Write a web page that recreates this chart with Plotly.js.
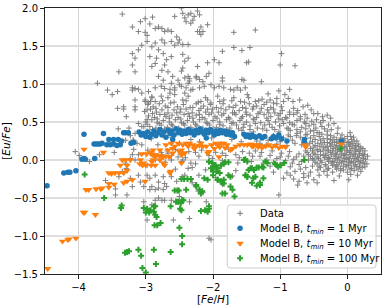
<!DOCTYPE html>
<html><head><meta charset="utf-8">
<script src="https://cdn.plot.ly/plotly-3.0.1.min.js"></script>
<style>html,body{margin:0;padding:0;background:#fff}#chart{width:390px;height:305px}</style>
</head><body><div id="chart"></div>
<script>
// Observational data: [Fe/H], [Eu/Fe]
const dataPts = [
[-3.35,1.92],[-3.2,1.75],[-3.08,1.82],[-3.01,1.86],[-2.9,1.88],[-2.94,1.79],[-3.11,1.69],[-3.01,1.68],[-2.98,1.64],[-2.86,1.73],[-2.81,1.75],[-2.76,1.73],[-2.72,1.69],[-2.67,1.71],[-2.62,1.69],[-2.54,1.62],[-2.5,1.58],[-2.76,1.58],[-2.72,1.54],[-2.62,1.56],[-2.57,1.51],[-2.52,1.54],[-2.91,1.49],[-2.86,1.54],[-2.81,1.45],[-3.2,1.4],[-3.11,1.45],[-3.16,1.34],[-3.06,1.51],[-2.98,1.56],[-3.2,1.25],[-3.16,1.16],[-3.4,1.16],[-3.72,1.01],[-3.57,0.92],[-3.5,0.86],[-3.42,0.9],[-3.33,0.7],[-3.33,0.67],[-3.42,0.68],[-3.16,0.7],[-3.16,0.66],[-3.2,0.92],[-3.16,0.94],[-3.06,0.88],[-3.01,0.79],[-2.96,0.75],[-2.91,0.83],[-2.86,0.77],[-2.91,1.23],[-2.86,1.27],[-2.76,1.18],[-2.72,1.25],[-2.81,1.1],[-2.74,1.05],[-2.94,1.36],[-2.84,1.34],[-2.74,1.4],[-2.69,1.32],[-2.62,1.36],[-2.67,1.16],[-2.6,1.1],[-2.52,1.05],[-2.62,1.01],[-2.5,0.99],[-2.37,1.01],[-2.35,1.07],[-2.72,0.94],[-2.64,0.88],[-2.57,0.92],[-2.42,0.88],[-2.33,0.92],[-3.11,0.48],[-3.06,0.44],[-2.98,0.53],[-3.3,0.26],[-3.18,0.26],[-3.25,0.42],[-2.47,2.0],[-2.33,1.93],[-2.3,1.84],[-2.57,1.89],
[-2.45,1.93],[-2.37,1.91],[-2.28,1.89],[-2.2,1.91],[-2.42,1.87],[-2.4,1.82],[-2.33,1.8],[-2.08,1.78],[-2.2,1.69],[-2.15,1.69],[-1.69,1.68],[-1.37,1.71],[-2.37,1.52],[-2.45,1.39],[-2.37,1.34],[-2.42,1.3],[-2.45,1.21],[-2.47,1.17],[-2.08,1.28],[-2.06,1.14],[-1.98,1.32],[-1.91,1.28],[-1.86,1.43],[-1.86,1.08],[-1.57,1.06],[-1.5,1.28],[-1.69,1.48],[-1.57,1.44],[-1.45,1.48],[-2.45,1.52],[-2.42,1.08],[-2.37,1.1],[-2.35,1.04],[-2.25,1.08],[-2.2,1.06],
[-2.23,1.96],[-2.18,1.75],[-2.23,1.69],[-2.18,1.65],[-1.47,1.29],[-0.98,1.4],[-1.0,1.25],[-0.78,1.24],[-2.23,1.23],[-2.25,1.1],[-2.1,1.1],[-2.15,1.03],[-1.86,1.04],[-1.54,1.05],[-1.28,1.03],[-1.69,0.92],[-1.59,0.92],[-1.49,0.86],[-1.02,0.91],[-0.86,0.93],[-1.18,0.87],[-1.27,0.8],[-1.15,0.79],[-1.05,0.81],[-1.1,0.75],[-0.93,0.86],[-0.88,0.81],[-0.81,0.77],[-0.71,0.79],[-0.66,0.7],[-0.59,0.72],[-0.54,0.66],[-0.44,0.61],[-0.37,0.57],[-0.3,0.59],[-0.25,0.55],[0.04,0.36],[0.09,0.3],[0.14,0.25],[0.01,0.24],
[-3.2,0.95],[-3.11,0.93],[-2.96,0.9],[-2.86,0.95],[-2.77,0.97],[-2.64,0.93],[-2.57,0.95],[-2.47,0.97],[-2.4,0.95],[-2.3,0.93],[-2.2,0.95],[-2.13,0.97],[-2.03,0.99],[-1.98,0.95],[-1.91,0.97],[-1.84,0.95],[-1.74,0.93],[-1.64,0.95],[-1.52,0.95],
[-3.16,0.79],[-3.01,0.77],[-2.91,0.82],[-2.77,0.84],[-2.67,0.82],[-2.57,0.86],[-2.45,0.79],[-2.37,0.84],[-2.18,0.77],[-2.11,0.82],[-2.03,0.75],[-1.93,0.84],[-1.84,0.79],[-1.69,0.82],[-1.59,0.77],[-1.47,0.82],[-1.37,0.77],
[-2.97,0.73],[-2.89,0.7],[-2.8,0.74],[-2.71,0.71],[-2.63,0.75],[-2.53,0.7],[-2.44,0.73],[-2.34,0.69],[-2.25,0.74],[-2.14,0.71],[-2.04,0.73],[-1.95,0.69],[-1.85,0.74],[-1.76,0.7],[-1.66,0.72],[-1.56,0.69],[-1.46,0.74],[-1.35,0.71],[-1.24,0.73],[-1.14,0.69],
[-3.02,0.64],[-2.93,0.67],[-2.84,0.63],[-2.76,0.66],[-2.67,0.62],[-2.58,0.66],[-2.49,0.63],[-2.4,0.67],[-2.31,0.62],[-2.21,0.65],[-2.11,0.63],[-2.01,0.67],[-1.92,0.63],[-1.81,0.66],[-1.71,0.62],[-1.61,0.65],[-1.51,0.63],[-1.41,0.67],[-1.3,0.63],[-1.19,0.66],[-1.08,0.62],[-0.97,0.65],[-0.86,0.63],
[-2.96,0.58],[-2.87,0.56],[-2.79,0.6],[-2.7,0.57],[-2.61,0.59],[-2.52,0.56],[-2.43,0.6],[-2.35,0.57],[-2.25,0.59],[-2.16,0.56],[-2.06,0.6],[-1.97,0.57],[-1.87,0.59],[-1.77,0.56],[-1.66,0.6],[-1.56,0.57],[-1.45,0.59],[-1.35,0.56],[-1.24,0.6],[-1.14,0.57],[-1.03,0.59],[-0.92,0.56],[-0.8,0.6],[-0.7,0.57],
[-3.0,0.5],[-2.91,0.53],[-2.83,0.49],[-2.74,0.52],[-2.65,0.5],[-2.56,0.53],[-2.47,0.49],[-2.38,0.52],[-2.29,0.5],[-2.2,0.53],[-2.1,0.49],[-2.0,0.52],[-1.9,0.5],[-1.8,0.53],[-1.7,0.49],[-1.6,0.52],[-1.5,0.5],[-1.39,0.53],[-1.29,0.49],[-1.18,0.52],[-1.07,0.5],[-0.97,0.53],[-0.86,0.49],[-0.75,0.52],[-0.64,0.5],[-0.53,0.51],
[-2.94,0.44],[-2.85,0.42],[-2.77,0.46],[-2.68,0.43],[-2.6,0.45],[-2.51,0.42],[-2.42,0.46],[-2.33,0.43],[-2.24,0.45],[-2.15,0.42],[-2.05,0.46],[-1.95,0.43],[-1.85,0.45],[-1.75,0.42],[-1.65,0.46],[-1.55,0.43],[-1.45,0.45],[-1.34,0.42],[-1.23,0.46],[-1.12,0.43],[-1.01,0.45],[-0.9,0.42],[-0.79,0.46],[-0.68,0.43],[-0.57,0.45],[-0.47,0.42],[-0.38,0.44],
[-2.98,0.38],[-2.8,0.37],[-2.63,0.39],[-2.45,0.37],[-2.28,0.39],[-2.1,0.37],[-1.92,0.39],[-1.73,0.37],[-1.57,0.39],[-1.4,0.37],[-1.2,0.39],[-1.02,0.37],[-0.85,0.39],[-0.7,0.37],[-0.55,0.38],[-0.42,0.36],[-0.3,0.38],
[-2.93,0.77],[-2.75,0.78],[-2.58,0.76],[-2.4,0.78],[-2.22,0.76],[-2.08,0.79],[-1.9,0.77],[-1.72,0.78],[-1.53,0.76],[-1.32,0.78],[-1.2,0.76],[-1.05,0.74],[-0.95,0.77],
[-2.85,0.68],[-2.67,0.69],[-2.48,0.67],[-2.3,0.69],[-2.18,0.68],[-2.08,0.67],[-1.88,0.68],[-1.7,0.69],[-1.51,0.68],[-1.4,0.7],[-1.28,0.68],[-1.1,0.67],[-0.98,0.7],[-0.8,0.68],[-0.74,0.65],
[-2.9,0.61],[-2.72,0.6],[-2.54,0.62],[-2.37,0.61],[-2.2,0.6],[-2.02,0.62],[-1.84,0.61],[-1.68,0.62],[-1.5,0.6],[-1.33,0.61],[-1.17,0.62],[-1.0,0.61],[-0.86,0.6],[-0.75,0.62],[-0.63,0.6],[-0.5,0.61],
[-2.83,0.54],[-2.65,0.55],[-2.48,0.54],[-2.3,0.55],[-2.12,0.54],[-1.94,0.55],[-1.75,0.54],[-1.58,0.55],[-1.4,0.54],[-1.2,0.55],[-1.02,0.54],[-0.9,0.55],[-0.7,0.54],[-0.6,0.55],[-0.46,0.53],[-0.36,0.52],
[-2.98,0.47],[-2.8,0.48],[-2.62,0.47],[-2.44,0.48],[-2.26,0.47],[-2.08,0.48],[-1.9,0.47],[-1.72,0.48],[-1.54,0.47],[-1.37,0.48],[-1.16,0.47],[-0.95,0.48],[-0.82,0.47],[-0.62,0.48],[-0.5,0.47],[-0.4,0.49],[-0.28,0.46],[-0.2,0.48],
[-2.9,0.4],[-2.72,0.41],[-2.54,0.4],[-2.36,0.41],[-2.18,0.4],[-2.0,0.41],[-1.8,0.4],[-1.62,0.41],[-1.45,0.4],[-1.26,0.41],[-1.08,0.4],[-0.88,0.41],[-0.75,0.4],[-0.62,0.41],[-0.5,0.39],[-0.34,0.41],[-0.24,0.4],[-0.14,0.42],
[-0.88,0.33],[-0.76,0.32],[-0.62,0.33],[-0.5,0.32],[-0.38,0.34],[-0.25,0.32],[-0.08,0.33],[0.05,0.31],
[-2.92,0.28],[-2.62,0.3],[-2.33,0.27],[-2.02,0.29],[-1.72,0.27],[-1.43,0.3],
[-2.97,0.13],[-2.77,0.1],[-2.56,0.14],[-2.36,0.11],[-2.17,0.13],[-1.96,0.1],[-1.77,0.14],[-1.56,0.11],[-1.37,0.12],
[-2.87,0.04],[-2.62,0.06],[-2.41,0.03],[-2.21,0.05],[-2.01,0.02],[-1.81,0.06],[-1.61,0.03],[-1.41,0.05],
[-2.71,-0.03],[-2.46,-0.02],[-2.26,-0.05],[-2.06,-0.03],[-1.86,-0.01],[-1.63,-0.04],[-1.43,-0.02],
[-2.56,-0.12],[-2.31,-0.1],[-2.11,-0.13],[-1.91,-0.11],[-1.66,-0.14],[-1.46,-0.12],
[-2.46,-0.22],[-2.21,-0.2],[-1.96,-0.23],[-1.71,-0.21],[-1.51,-0.19],[-2.31,-0.3],[-1.86,-0.32],
[-2.82,0.2],[-2.5,0.22],[-2.2,0.24],[-1.88,0.21],[-1.58,0.24],[-1.3,0.22],[-2.68,0.12],[-2.46,0.08],[-2.26,0.1],[-2.06,0.06],[-1.86,0.09],[-1.66,0.07],[-1.46,0.09],
[-1.25,0.3],[-1.1,0.32],[-0.95,0.29],[-0.85,0.31],[-1.2,0.2],[-1.05,0.21],[-0.9,0.19],[-0.78,0.22],[-0.68,0.2],
[-1.28,0.1],[-1.12,0.12],[-0.98,0.09],[-0.86,0.11],[-0.72,0.08],[-0.62,0.12],
[-1.2,0.0],[-1.05,0.02],[-0.92,-0.01],[-0.8,0.01],[-0.68,-0.02],[-0.58,0.0],
[-1.15,-0.08],[-0.98,-0.07],[-0.85,-0.09],[-0.72,-0.06],[-0.62,-0.1],[-0.52,-0.08],
[-1.1,-0.16],[-0.9,-0.17],[-0.78,-0.15],[-0.65,-0.18],[-0.55,-0.16],
[-0.95,-0.24],[-0.8,-0.25],[-0.65,-0.23],[-0.5,-0.26],[-0.74,-0.33],[-0.44,-0.13],
[-1.35,0.25],[-1.18,0.26],[-1.0,0.24],[-0.82,0.26],[-1.3,0.05],[-1.15,0.06],[-1.0,0.04],[-0.88,0.05],[-0.76,0.04],[-0.65,0.05],[-1.25,-0.04],[-1.1,-0.03],[-0.95,-0.04],[-0.82,-0.04],[-0.7,-0.12],[-0.58,-0.21],[-0.85,-0.2],[-0.72,-0.28],[-0.6,-0.3],[-0.42,-0.2],[-0.45,-0.3],
[-0.75,0.35],[-0.6,0.34],[-0.45,0.36],[-0.3,0.33],[-0.15,0.35],
[-0.7,0.3],[-0.55,0.29],[-0.42,0.31],[-0.3,0.28],[-0.2,0.3],[-0.1,0.29],[0.0,0.31],
[-0.62,0.28],[-0.48,0.27],[-0.36,0.28],[-0.25,0.27],[-0.16,0.27],[-0.04,0.28],[0.06,0.27],
[-0.65,0.25],[-0.52,0.24],[-0.4,0.26],[-0.3,0.23],[-0.22,0.25],[-0.14,0.24],[-0.06,0.26],[0.02,0.23],[0.1,0.25],
[-0.56,0.22],[-0.44,0.22],[-0.34,0.23],[-0.26,0.22],[-0.19,0.23],[-0.12,0.22],[-0.05,0.23],[0.02,0.21],[0.08,0.22],[0.16,0.21],
[-0.6,0.2],[-0.48,0.19],[-0.38,0.21],[-0.3,0.18],[-0.23,0.2],[-0.16,0.19],[-0.09,0.21],[-0.02,0.18],[0.05,0.2],[0.12,0.19],
[-0.5,0.17],[-0.41,0.18],[-0.32,0.17],[-0.25,0.18],[-0.18,0.17],[-0.11,0.18],[-0.04,0.17],[0.03,0.18],[0.1,0.17],[0.17,0.18],[0.23,0.15],
[-0.55,0.15],[-0.45,0.14],[-0.36,0.16],[-0.28,0.13],[-0.21,0.15],[-0.14,0.14],[-0.07,0.16],[0.0,0.13],[0.07,0.15],[0.14,0.14],[0.2,0.16],
[-0.52,0.12],[-0.44,0.12],[-0.35,0.13],[-0.29,0.12],[-0.22,0.12],[-0.15,0.12],[-0.08,0.13],[-0.01,0.12],[0.05,0.12],[0.12,0.12],[0.19,0.13],[0.26,0.12],
[-0.6,0.1],[-0.5,0.09],[-0.4,0.11],[-0.32,0.08],[-0.25,0.1],[-0.18,0.09],[-0.11,0.11],[-0.04,0.08],[0.03,0.1],[0.1,0.09],[0.17,0.11],[0.23,0.08],
[-0.58,0.07],[-0.48,0.07],[-0.4,0.07],[-0.32,0.06],[-0.24,0.07],[-0.16,0.07],[-0.09,0.08],[-0.02,0.07],[0.05,0.07],[0.12,0.07],[0.18,0.08],[0.25,0.07],
[-0.55,0.05],[-0.45,0.04],[-0.36,0.06],[-0.28,0.03],[-0.2,0.05],[-0.13,0.04],[-0.06,0.06],[0.01,0.03],[0.08,0.05],[0.15,0.04],[0.22,0.06],
[-0.52,0.02],[-0.43,0.02],[-0.34,0.03],[-0.26,0.02],[-0.18,0.02],[-0.11,0.03],[-0.04,0.02],[0.03,0.02],[0.1,0.02],[0.17,0.03],[0.24,0.02],
[-0.5,0.0],[-0.4,-0.01],[-0.3,0.01],[-0.22,-0.02],[-0.15,0.0],[-0.08,-0.01],[-0.01,0.01],[0.06,-0.02],[0.13,0.0],[0.2,-0.01],[0.27,0.01],
[-0.48,-0.03],[-0.38,-0.03],[-0.28,-0.02],[-0.2,-0.03],[-0.12,-0.03],[-0.05,-0.02],[0.02,-0.03],[0.09,-0.03],[0.16,-0.02],[0.23,-0.03],
[-0.45,-0.05],[-0.33,-0.06],[-0.24,-0.04],[-0.16,-0.06],[-0.09,-0.04],[-0.02,-0.06],[0.05,-0.04],[0.12,-0.06],[0.19,-0.04],[0.25,-0.05],
[-0.42,-0.08],[-0.32,-0.08],[-0.22,-0.07],[-0.14,-0.08],[-0.06,-0.08],[0.02,-0.07],[0.1,-0.08],[0.18,-0.08],[0.26,-0.09],
[-0.4,-0.1],[-0.28,-0.11],[-0.18,-0.09],[-0.1,-0.11],[-0.02,-0.09],[0.06,-0.11],[0.14,-0.09],[0.22,-0.1],
[-0.3,-0.13],[-0.16,-0.12],[-0.06,-0.13],[0.04,-0.12],[0.16,-0.12],
[-0.35,-0.15],[-0.22,-0.16],[-0.1,-0.14],[0.0,-0.16],[0.1,-0.14],[0.2,-0.15],
[-0.3,-0.2],[-0.12,-0.21],[0.05,-0.19],[0.15,-0.2],[-0.2,-0.27],[0.02,-0.26],[0.29,-0.05],[0.3,0.05],
[-4.05,0.11],[-3.99,0.06],[-3.84,-0.02],[-3.69,0.07],[-3.47,0.1],[-3.45,-0.38],[-3.6,-0.27],[-3.41,0.41],[-3.29,0.57],[-3.23,0.32],[-3.19,0.26],[-3.16,0.35],[-3.13,0.22],[-3.06,0.2],[-3.18,0.14],[-3.03,0.44],[-2.98,0.66],[-3.4,-0.22],[-3.35,-0.15],[-3.29,-0.11],[-3.23,-0.24],[-3.2,-0.35],[-3.11,-0.2],[-3.08,-0.29],[-3.03,-0.35],[-3.45,-0.46],[-3.28,-0.46],
[-3.2,0.07],[-3.11,0.07],[-3.3,-0.04],[-3.16,0.0],[-3.23,0.02],[-2.98,-0.2],[-2.94,-0.24],[-2.86,-0.2],[-2.81,-0.29],[-2.74,-0.22],[-2.91,-0.35],[-2.86,-0.39],[-2.72,-0.31],[-2.62,-0.22],[-2.54,-0.28],[-2.42,-0.2],[-2.37,-0.11],[-2.33,-0.04],[-2.45,0.0],[-2.52,0.04],[-3.03,-0.55],[-2.98,-0.79],[-2.91,-0.59],[-3.06,-0.04],[-2.98,-0.07],[-2.86,0.0],[-2.62,0.0],[-2.76,0.07],[-2.67,0.09],
[-2.94,-0.39],[-2.81,-0.37],[-2.74,-0.39],[-2.69,-0.35],[-2.81,-0.5],[-2.76,-0.53],[-2.86,-0.53],[-2.72,-0.53],[-2.62,-0.53],[-2.54,-0.55],[-2.5,-0.48],[-2.35,-0.55],[-2.35,-0.77],[-2.59,-0.79],[-2.1,-0.55],[-2.06,-1.03],[-2.03,-1.05],[-1.59,-0.7],[-1.74,-0.35],[-1.02,-0.46],[-2.15,-0.43],[-2.22,-0.41]
];
// Model B, t_min = 1 Myr
const modelB1 = [
[-4.47,-0.34],[-4.22,-0.17],[-4.16,-0.16],[-4.13,-0.16],[-4.04,-0.14],[-3.95,0.01],[-3.92,0.02],[-3.9,0.01],[-3.76,0.02],[-3.92,0.34],[-3.63,0.35],
[-3.77,0.21],[-3.74,0.21],[-3.71,0.21],[-3.68,0.21],[-3.65,0.22],[-3.58,0.2],[-3.53,0.2],[-3.48,0.21],[-3.43,0.19],[-3.38,0.2],
[-3.55,0.27],[-3.48,0.27],[-3.41,0.27],[-3.36,0.25],[-3.33,0.36],[-3.3,0.36],[-3.26,0.36],[-3.22,0.22],[-3.18,0.23],
[-3.1,0.37],[-3.07,0.33],[-3.04,0.35],[-3.0,0.31],[-2.97,0.37],[-2.94,0.3],[-2.91,0.34],
[-2.88,0.38],[-2.85,0.32],[-2.82,0.36],[-2.79,0.4],[-2.76,0.33],[-2.73,0.37],[-2.7,0.3],[-2.67,0.39],[-2.64,0.35],[-2.61,0.38],[-2.58,0.33],[-2.55,0.41],[-2.52,0.36],[-2.49,0.39],[-2.46,0.34],[-2.43,0.38],[-2.4,0.35],[-2.37,0.4],[-2.34,0.36],[-2.31,0.38],[-2.28,0.33],[-2.25,0.39],[-2.22,0.36],[-2.19,0.41],[-2.16,0.37],[-2.13,0.34],[-2.1,0.39],[-2.07,0.36],[-2.04,0.4],[-2.01,0.37],[-1.98,0.33],[-1.95,0.38],[-1.92,0.35],[-1.89,0.39],[-1.86,0.36],[-1.83,0.38],[-1.8,0.34],[-1.77,0.37],[-1.74,0.33],[-1.71,0.36],[-1.68,0.31],
[-1.54,0.34],[-1.51,0.31],[-1.48,0.33],[-1.45,0.3],[-1.42,0.33],[-1.39,0.31],[-1.36,0.3],[-1.31,0.32],[-1.27,0.29],[-1.23,0.31],
[-1.13,0.28],[-1.1,0.31],[-1.06,0.29],[-1.02,0.33],[-0.98,0.28],[-0.9,0.25],[-0.64,0.27],[-0.64,0.24],[-0.09,0.25],[-2.6,0.27],[-2.1,0.29]
];
// Model B, t_min = 10 Myr
const modelB10 = [
[-4.46,-1.43],[-4.24,-1.07],[-4.16,-1.05],[-4.14,-1.04],[-4.04,-1.03],[-3.93,-0.69],[-3.91,-0.69],[-3.75,-0.72],[-3.92,0.14],[-3.63,0.1],
[-3.89,-0.39],[-3.85,-0.39],[-3.74,-0.38],[-3.67,-0.38],[-3.65,-0.37],[-3.55,-0.17],[-3.51,-0.18],[-3.46,-0.17],[-3.4,-0.17],[-3.33,-0.17],[-3.28,-0.14],
[-3.55,-0.31],[-3.47,-0.32],[-3.55,-0.36],[-3.33,-0.3],[-3.28,-0.28],[-3.38,-0.07],[-3.35,0.0],[-3.3,0.0],[-3.23,0.0],[-3.28,-0.07],[-3.2,-0.26],[-3.01,-0.28],
[-3.06,0.08],[-2.99,0.08],[-2.92,0.08],[-3.09,-0.05],[-3.05,-0.07],[-3.0,-0.07],[-2.92,-0.07],[-3.08,0.0],[-3.03,-0.04],[-2.94,0.1],[-2.89,0.07],
[-2.89,0.13],[-2.86,0.07],[-2.79,0.13],[-2.89,0.0],[-2.79,0.0],[-2.74,0.04],[-2.67,0.13],[-2.62,0.22],[-2.57,0.18],[-2.52,0.22],[-2.47,0.13],[-2.47,0.07],[-2.42,0.09],[-2.37,0.18],[-2.35,0.22],[-2.3,0.2],[-2.25,0.18],[-2.18,0.22],[-2.15,0.18],[-2.1,0.18],[-2.08,0.09],[-2.06,0.11],[-1.98,0.15],[-1.93,0.2],[-1.88,0.22],[-1.84,0.22],[-1.79,0.2],[-1.74,0.13],[-1.71,0.15],[-1.54,0.2],[-1.49,0.2],[-1.4,0.18],[-1.35,0.2],
[-2.63,-0.15],[-2.47,-0.04],[-2.74,-0.04],[-1.91,0.04],
[-2.7,0.2],[-2.6,0.15],[-2.45,0.2],[-2.4,0.22],[-2.28,0.15],[-2.2,0.19],[-2.02,0.2],[-1.96,0.22],[-1.9,0.17],[-1.82,0.16],[-1.66,0.18],[-1.6,0.2],[-1.44,0.21],
[-2.86,0.04],[-2.8,0.06],[-2.76,0.04],[-2.7,0.05],[-2.65,0.04],[-2.6,0.09],[-2.5,0.11],[-2.45,0.09],[-2.91,-0.02],[-2.86,-0.07],[-2.72,-0.07],[-2.64,-0.17],
[-1.42,0.18],[-1.38,0.2],[-1.33,0.17],[-1.3,0.19],[-1.27,0.16],[-1.22,0.18],[-1.17,0.2],[-1.12,0.17],[-1.07,0.19],[-1.02,0.16],[-0.97,0.18],[-0.92,0.17],[-0.64,0.2],[-0.62,0.17],[-0.09,0.21]
];
// Model B, t_min = 100 Myr
const modelB100 = [
[-3.91,-0.19],[-3.62,-0.5],[-3.36,-0.6],[-3.37,-0.63],[-3.31,-1.22],[-3.28,-1.21],[-3.25,-1.2],[-3.11,-1.18],[-3.07,-1.26],[-3.05,-1.42],[-3.0,-1.48],
[-3.03,-0.63],[-3.0,-0.69],[-2.98,-0.64],[-2.95,-0.69],[-2.93,-0.66],[-2.88,-0.61],[-2.88,-0.68],[-2.86,-0.61],[-2.86,-0.72],[-2.84,-0.75],
[-2.87,-0.86],[-2.83,-0.86],[-2.78,-0.83],[-2.88,-1.18],[-2.85,-1.37],[-2.63,-1.21],[-2.63,-0.61],
[-2.57,-0.4],[-2.53,-0.4],[-2.51,-0.4],[-2.47,-0.25],[-2.43,-0.25],[-2.38,-0.25],[-2.33,-0.25],
[-2.55,-0.55],[-2.52,-0.55],[-2.48,-0.57],[-2.46,-0.53],[-2.44,-0.53],[-2.49,-0.64],[-2.47,-0.66],[-2.5,-0.89],[-2.46,-1.0],[-2.46,-1.11],
[-2.4,-0.39],[-2.18,-0.67],[-2.06,-0.64],[-2.18,-0.44],[-2.25,-0.33],[-2.25,-0.35],[-2.2,-0.39],[-2.16,-0.41],[-2.12,-0.66],[-2.08,-0.68],[-2.06,-0.61],
[-2.03,-0.11],[-2.0,-0.11],[-1.98,-0.09],[-2.0,-0.15],[-1.95,-0.15],[-1.9,-0.17],[-2.0,-0.2],[-1.96,-0.07],
[-1.93,-0.26],[-1.88,-0.28],[-1.86,-0.3],[-1.84,-0.26],[-1.86,-0.44],[-1.82,-0.44],[-1.71,-0.39],[-1.68,-0.48],
[-1.84,-0.05],[-1.82,-0.03],[-1.77,-0.03],[-1.77,-0.2],[-1.74,-0.22],
[-1.52,-0.2],[-1.49,-0.22],[-1.47,-0.13],[-1.44,-0.11],[-1.42,-0.11],[-1.39,-0.13],[-1.54,0.0],[-1.52,0.01],[-1.49,-0.02],
[-1.42,-0.3],[-1.3,-0.3],[-1.3,-0.33],[-1.35,-0.1],[-1.32,-0.1],[-1.27,-0.09],[-1.25,-0.1],[-1.22,-0.02],[-1.19,-0.04],
[-1.08,-0.05],[-1.05,-0.07],[-1.03,-0.09],[-1.0,-0.07],[-0.94,-0.04],[-1.25,-0.24],[-1.37,-0.22],[-1.35,-0.34],[-0.64,0.0],[-0.1,0.15],
[-2.06,-0.02],[-2.01,-0.04],[-1.93,-0.11],[-1.88,-0.07],[-2.13,-0.24],[-2.08,-0.26],[-1.93,-0.26],[-1.84,-0.31],[-1.74,-0.35],[-1.49,-0.22],[-1.4,-0.24]
];
const xTicks = [-4, -3, -2, -1, 0];
const yTicks = [-1.5, -1.0, -0.5, 0.0, 0.5, 1.0, 1.5, 2.0];
const seriesNames = ['Data',
  'Model B, <i>t</i><sub><i>min</i></sub> = 1 Myr',
  'Model B, <i>t</i><sub><i>min</i></sub> = 10 Myr',
  'Model B, <i>t</i><sub><i>min</i></sub> = 100 Myr'];

const xs = a => a.map(p => p[0]);
const ys = a => a.map(p => p[1]);
const traces = [
  {x: xs(dataPts), y: ys(dataPts), type: 'scatter', mode: 'markers', name: seriesNames[0], legend: 'legend',
   marker: {symbol: 'cross-thin-open', size: 4, color: '#808080', line: {width: 1, color: '#808080'}}},
  {x: xs(modelB1), y: ys(modelB1), type: 'scatter', mode: 'markers', name: seriesNames[1], legend: 'legend2',
   marker: {symbol: 'circle', size: 5.5, color: '#1f77b4'}},
  {x: xs(modelB10), y: ys(modelB10), type: 'scatter', mode: 'markers', name: seriesNames[2], legend: 'legend3',
   marker: {symbol: 'triangle-down', size: 6.5, color: '#ff7f0e'}},
  {x: xs(modelB100), y: ys(modelB100), type: 'scatter', mode: 'markers', name: seriesNames[3], legend: 'legend4',
   marker: {symbol: 'cross', size: 5, color: '#2ca02c'}}
];
const legFont = {family: 'DejaVu Sans, sans-serif', size: 10, color: '#000'};
const legBase = y => ({x: 0.521, y: y, xanchor: 'left', yanchor: 'middle', bgcolor: 'rgba(0,0,0,0)',
                       borderwidth: 0, font: legFont, itemwidth: 30});
// legend frame (paper coords)
const bx0 = 0.5425, bx1 = 0.9853, by0 = 0.0226, by1 = 0.2594, rx = 0.009, ry = 0.0113;
const framePath = `M ${bx0+rx},${by0} L ${bx1-rx},${by0} Q ${bx1},${by0} ${bx1},${by0+ry} L ${bx1},${by1-ry} Q ${bx1},${by1} ${bx1-rx},${by1} L ${bx0+rx},${by1} Q ${bx0},${by1} ${bx0},${by1-ry} L ${bx0},${by0+ry} Q ${bx0},${by0} ${bx0+rx},${by0} Z`;
const layout = {
  width: 390, height: 305,
  margin: {l: 45, r: 4, t: 8, b: 31},
  paper_bgcolor: '#fff', plot_bgcolor: '#fff',
  font: {family: 'DejaVu Sans, sans-serif', size: 10, color: '#000'},
  showlegend: true,
  legend: legBase(0.228), legend2: legBase(0.172), legend3: legBase(0.115), legend4: legBase(0.059),
  shapes: [{type: 'path', xref: 'paper', yref: 'paper', path: framePath, layer: 'above',
            fillcolor: 'rgba(255,255,255,0.8)', line: {color: '#cccccc', width: 1}}],
  xaxis: {range: [-4.5, 0.5], tickvals: xTicks, ticktext: xTicks.map(v => v < 0 ? '\u2212' + Math.abs(v) : String(v)),
          showgrid: true, gridcolor: '#d4d4d4', gridwidth: 1, zeroline: false,
          showline: true, linecolor: '#222', linewidth: 1, mirror: true,
          ticks: 'outside', ticklen: 4, tickcolor: '#222',
          title: {text: '[<i>Fe</i>/<i>H</i>]', font: {family: 'DejaVu Sans, sans-serif', size: 10.5}, standoff: 1}},
  yaxis: {range: [-1.5, 2.0], tickvals: yTicks, ticktext: yTicks.map(v => (v < 0 ? '\u2212' : '') + Math.abs(v).toFixed(1)),
          showgrid: true, gridcolor: '#dedede', gridwidth: 1.5, zeroline: false,
          showline: true, linecolor: '#222', linewidth: 1, mirror: true,
          ticks: 'outside', ticklen: 4, tickcolor: '#222',
          title: {text: '[<i>Eu</i>/<i>Fe</i>]', font: {family: 'DejaVu Sans, sans-serif', size: 10.5}, standoff: 4}}
};
Plotly.newPlot('chart', traces, layout, {staticPlot: true, displayModeBar: false});
</script></body></html>
